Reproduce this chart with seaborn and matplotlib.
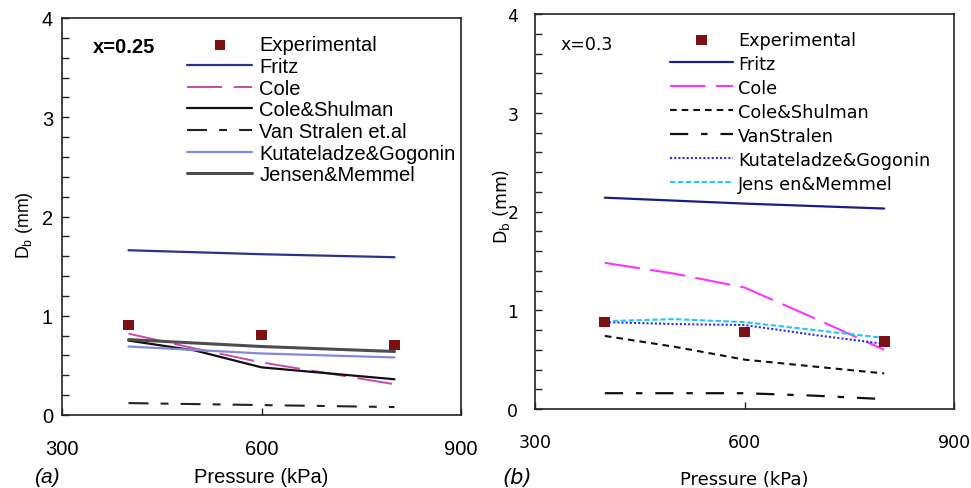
import matplotlib
matplotlib.use("Agg")
import matplotlib.pyplot as plt
import seaborn as sns
from matplotlib.ticker import MultipleLocator, FixedLocator

sns.set_theme(style="white")
plt.rcParams["font.family"] = ["Liberation Sans", "DejaVu Sans"]
plt.rcParams.update({"text.color": "black", "axes.labelcolor": "black",
                     "xtick.color": "black", "ytick.color": "black"})

# ---- data -------------------------------------------------------------
pressure = [400, 600, 800]
pressure_fine = [400, 500, 600, 700, 800]

# (a) x = 0.25
exp_a = [0.91, 0.81, 0.71]
fritz_a = [1.66, 1.62, 1.59]
cole_a = [0.82, 0.67, 0.53, 0.42, 0.31]
cole_shulman_a = [0.75, 0.65, 0.48, 0.42, 0.36]
van_stralen_a = [0.12, 0.10, 0.08]
kutateladze_a = [0.69, 0.62, 0.58]
jensen_a = [0.76, 0.69, 0.64]

# (b) x = 0.3
exp_b = [0.88, 0.78, 0.68]
fritz_b = [2.14, 2.08, 2.03]
cole_b = [1.48, 1.37, 1.23, 0.92, 0.60]
cole_shulman_b = [0.74, 0.63, 0.50, 0.43, 0.36]
van_stralen_b = [0.16, 0.16, 0.16, 0.135, 0.10]
kutateladze_b = [0.88, 0.86, 0.85, 0.75, 0.66]
jensen_b = [0.89, 0.91, 0.88, 0.80, 0.72]

x_ticks = [300, 600, 900]
y_ticks = [0, 1, 2, 3, 4]

EXP_COLOR = "#7b1113"

fig = plt.figure(figsize=(9.71, 4.89), dpi=100)
ax_a = fig.add_axes([62 / 971, 73 / 489, 399 / 971, 397 / 489])
ax_b = fig.add_axes([535 / 971, 79 / 489, 419 / 971, 395 / 489])


def style_axes(ax, font, size, xpad, ypad):
    ax.set_xlim(300, 900)
    ax.set_ylim(0, 4)
    ax.xaxis.set_major_locator(FixedLocator(x_ticks))
    ax.yaxis.set_major_locator(FixedLocator(y_ticks))
    ax.yaxis.set_minor_locator(MultipleLocator(0.2))
    ax.tick_params(axis="both", which="both", direction="in", color="#222222",
                   bottom=True, left=True, top=False, right=False,
                   labelsize=size, labelcolor="black")
    ax.tick_params(axis="both", which="major", length=5, width=1)
    ax.tick_params(axis="y", which="minor", length=5, width=1)
    ax.tick_params(axis="x", which="minor", bottom=False)
    ax.tick_params(axis="x", pad=xpad)
    ax.tick_params(axis="y", pad=ypad)
    for lab in ax.get_xticklabels() + ax.get_yticklabels():
        lab.set_family(font)
    for sp in ax.spines.values():
        sp.set_visible(True)
        sp.set_color("#222222")
        sp.set_linewidth(1.2)
    ax.grid(False)


# ---- panel (a) --------------------------------------------------------
ax = ax_a
sns.scatterplot(x=pressure, y=exp_a, ax=ax, marker="s", s=52, color=EXP_COLOR,
                edgecolor="none", label="Experimental", zorder=5)
sns.lineplot(x=pressure, y=fritz_a, ax=ax, color="#2b328c", lw=1.6, label="Fritz")
sns.lineplot(x=pressure_fine, y=cole_a, ax=ax, color="#cc4aa6", lw=1.4,
             linestyle=(0, (18, 6)), label="Cole")
sns.lineplot(x=pressure_fine, y=cole_shulman_a, ax=ax, color="#111111", lw=1.6,
             label="Cole&Shulman")
sns.lineplot(x=pressure, y=van_stralen_a, ax=ax, color="#222222", lw=1.5,
             linestyle=(0, (9.6, 5.8, 3.8, 5.8)), label="Van Stralen et.al")
sns.lineplot(x=pressure, y=kutateladze_a, ax=ax, color="#8589dc", lw=1.6,
             label="Kutateladze&Gogonin")
sns.lineplot(x=pressure, y=jensen_a, ax=ax, color="#4d4d4d", lw=2.2,
             label="Jensen&Memmel")
style_axes(ax, "Liberation Sans", 14.5, 17, 6.5)
h, l = ax.get_legend_handles_labels()
order = ["Experimental", "Fritz", "Cole", "Cole&Shulman", "Van Stralen et.al",
         "Kutateladze&Gogonin", "Jensen&Memmel"]
hh = [h[l.index(o)] for o in order]
ax.legend(hh, order, loc="upper left", bbox_to_anchor=(0.313, 0.956),
          frameon=False, borderpad=0, borderaxespad=0, handlelength=3.25,
          handletextpad=0.35, labelspacing=0.13,
          prop={"family": "Liberation Sans", "size": 14.5})
ax.text(0.078, 0.927, "x=0.25", transform=ax.transAxes, fontsize=14.5,
        fontweight="bold", va="center", ha="left", family="Liberation Sans")
ax.set_xlabel("Pressure (kPa)", fontsize=14.5, family="Liberation Sans")
ax.set_ylabel("D$_\\mathregular{b}$ (mm)", fontsize=12.8, family="Liberation Sans")
ax.xaxis.set_label_coords(0.5, -0.132)
ax.yaxis.set_label_coords(-0.068, 0.481)

# ---- panel (b) --------------------------------------------------------
ax = ax_b
sns.scatterplot(x=pressure, y=exp_b, ax=ax, marker="s", s=60, color=EXP_COLOR,
                edgecolor="none", label="Experimental", zorder=5)
sns.lineplot(x=pressure, y=fritz_b, ax=ax, color="#1c1c86", lw=1.6, label="Fritz")
sns.lineplot(x=pressure_fine, y=cole_b, ax=ax, color="#ff33ff", lw=1.5,
             linestyle=(0, (17, 5)), label="Cole")
sns.lineplot(x=pressure_fine, y=cole_shulman_b, ax=ax, color="#111111", lw=1.5,
             linestyle=(0, (3.2, 2.4)), label="Cole&Shulman")
sns.lineplot(x=pressure_fine, y=van_stralen_b, ax=ax, color="#111111", lw=1.6,
             linestyle=(0, (8.2, 5.8, 2.9, 5.8)), label="VanStralen")
sns.lineplot(x=pressure_fine, y=kutateladze_b, ax=ax, color="#2a2aff", lw=1.5,
             linestyle=(0, (1, 1)), label="Kutateladze&Gogonin")
sns.lineplot(x=pressure_fine, y=jensen_b, ax=ax, color="#22c8f5", lw=1.5,
             linestyle=(0, (2.6, 1.2)), label="Jens en&Memmel")
style_axes(ax, "DejaVu Sans", 12.5, 17, 12)
h, l = ax.get_legend_handles_labels()
order = ["Experimental", "Fritz", "Cole", "Cole&Shulman", "VanStralen",
         "Kutateladze&Gogonin", "Jens en&Memmel"]
hh = [h[l.index(o)] for o in order]
ax.legend(hh, order, loc="upper left", bbox_to_anchor=(0.322, 0.958),
          frameon=False, borderpad=0, borderaxespad=0, handlelength=3.6,
          handletextpad=0.25, labelspacing=0.34,
          prop={"family": "DejaVu Sans", "size": 12.7})
ax.text(0.06, 0.924, "x=0.3", transform=ax.transAxes, fontsize=12.5,
        va="center", ha="left", family="DejaVu Sans")
ax.set_xlabel("Pressure (kPa)", fontsize=13, family="DejaVu Sans")
ax.set_ylabel("D$_\\mathregular{b}$ (mm)", fontsize=12.5, family="DejaVu Sans")
ax.xaxis.set_label_coords(0.5, -0.155)
ax.yaxis.set_label_coords(-0.055, 0.516)

fig.text(47 / 971, 1 - 478 / 489, "(a)", fontsize=15, style="italic",
         ha="center", va="center", family="Liberation Sans")
fig.text(517 / 971, 1 - 478 / 489, "(b)", fontsize=15, style="italic",
         ha="center", va="center", family="DejaVu Sans")

fig.savefig("out.png", dpi=100, facecolor="white")
